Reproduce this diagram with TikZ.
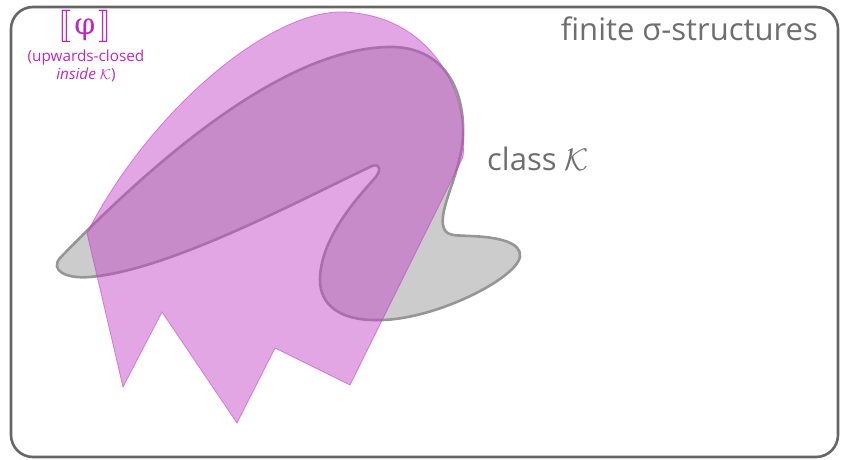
\documentclass[tikz,border=0pt]{standalone}
\usepackage{fontspec}
\usepackage{stmaryrd}
\setmainfont{Open Sans}
\newfontfamily\phifont{DejaVu Serif}
\newcommand{\bigK}{\scalebox{1.25}{$\mathcal{K}$}}
\newcommand{\lbrk}{\scalebox{1.3}{$\llbracket$}}
\newcommand{\rbrk}{\scalebox{1.3}{$\rrbracket$}}
\definecolor{framegray}{RGB}{102,102,102}
\definecolor{txtgray}{RGB}{110,110,110}
\definecolor{kfill}{RGB}{204,204,204}
\definecolor{kline}{RGB}{150,150,150}
\definecolor{phicol}{RGB}{193,66,197}
\definecolor{phitext}{RGB}{190,40,190}
\tikzset{
  frame/.style={draw=framegray, line width=2.6pt, rounded corners=22pt},
  classk/.style={fill=kfill, draw=kline, line width=2.6pt},
  phiset/.style={fill=phicol, fill opacity=0.47, draw=phicol, draw opacity=0.6, line width=0.8pt, line join=miter},
  bigtext/.style={text=txtgray, font=\fontsize{31}{36}\selectfont, inner sep=0pt},
  phitxt/.style={text=phitext, inner sep=0pt, align=center}
}
\begin{document}
\begin{tikzpicture}[x=1pt,y=-1pt]
\useasboundingbox (0,0) rectangle (841,460);
\draw[frame] (11,7) rectangle (838,457);
% class K
\draw[classk] (60,258) .. controls (150,165) and (280,50) .. (387,47)
  .. controls (440,45) and (465,85) .. (463,135)
  .. controls (462,170) and (440,205) .. (443,225)
  .. controls (445,237) and (455,235) .. (470,236)
  .. controls (500,237) and (522,243) .. (520,257)
  .. controls (515,280) and (430,322) .. (375,320)
  .. controls (340,320) and (320,305) .. (320,280)
  .. controls (320,240) and (355,200) .. (375,178)
  .. controls (381,171) and (381,163) .. (372,166)
  .. controls (300,200) and (170,270) .. (90,277)
  .. controls (65,279) and (50,270) .. (60,258) -- cycle;
% phi set
\path[phiset] (463,157) .. controls (470,90) and (430,15) .. (343,12)
  .. controls (270,10) and (150,110) .. (87,233)
  -- (123,387) -- (162,312) -- (237,423) -- (275,348) -- (350,385) -- cycle;
% labels
\node[bigtext, anchor=base east] (fin) at (818,41) {finite σ-structures};
\node[bigtext, anchor=base west] (cls) at (487,170) {class \bigK};
\node[phitxt, anchor=base, font=\fontsize{24.88}{28}\selectfont] (phi) at (85,35) {\lbrk\kern3pt{\phifont\fontsize{30}{32}\selectfont φ}\kern3pt\rbrk};
\node[phitxt, anchor=base, font=\fontsize{15.3}{17}\selectfont] (up) at (86,62) {(upwards-closed};
\node[phitxt, anchor=base, font=\fontsize{15.3}{17}\selectfont] (ins) at (86,80) {\textit{inside} $\mathcal{K}$)};
\end{tikzpicture}
\end{document}
